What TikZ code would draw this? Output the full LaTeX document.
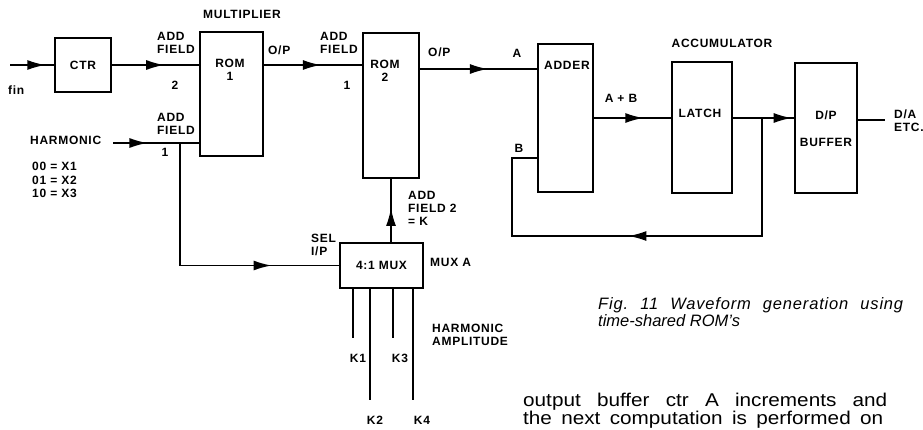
\documentclass[tikz,border=0pt]{standalone}
\usepackage{fontspec}
\setmainfont{Liberation Sans}
\newfontfamily\lblfont[LetterSpace=6]{Liberation Sans}
\newfontfamily\bodyfont[FakeStretch=1.12]{Liberation Sans}
\usetikzlibrary{arrows.meta,decorations.markings,positioning}
\tikzset{
    >={Latex[length=18pt,width=10pt]}, % filled mid-line heads
    flow/.style={
        decoration={
            markings,
            mark=at position #1 with {\arrow{>}}
        },
        postaction={decorate}
    },
    flow/.default=0.55,
    wire/.style={line width=1.6pt, draw=black},
    lbl/.style={font=\lblfont\bfseries\fontsize{12}{13}\selectfont, inner sep=0pt, align=left},
    block/.style 2 args={draw=black, line width=1.7pt, minimum width=#1, minimum height=#2,
        inner sep=0pt, font=\lblfont\bfseries\fontsize{12}{13}\selectfont},
    capt/.style={font=\itshape\fontsize{16.5}{18}\selectfont, inner sep=0pt},
    bodytext/.style={font=\bodyfont\fontsize{18.5}{19}\selectfont, inner sep=0pt}
}
\begin{document}
\begin{tikzpicture}[x=1pt,y=-1pt]
  \useasboundingbox (0,0) rectangle (923,429);

  % Blocks
  \node[block={56pt}{54pt}] (ctr) at (83,65) {CTR};
  \node[block={63pt}{124pt}] (rom1) at (231.5,94) {};
  \node[block={56pt}{145pt}] (rom2) at (391,105.5) {};
  \node[block={83pt}{45pt}] (mux) at (381.5,265.5) {4:1 MUX};
  \node[block={55pt}{148pt}] (adder) at (565.5,118) {};
  \node[block={60pt}{131pt}] (latch) at (702,127.5) {};
  \node[block={62pt}{130pt}] (buffer) at (826,128) {};

  % Free ends and junctions
  \coordinate (fin) at (10,65);
  \coordinate (rowA) at (0,69);
  \coordinate (hin) at (113,143);
  \coordinate (hj) at (180,143);
  \coordinate (fj) at (762,118);
  \coordinate (fbR) at (762,236);
  \coordinate (fbL) at (512,236);
  \coordinate (inB) at (512,158);
  \coordinate (dout) at (885,120);

  % Connectors
  \draw[wire, flow=0.8] (fin) -- (ctr.west);
  \draw[wire, flow=0.6] (ctr.east) -- (ctr.east -| rom1.west);
  \draw[wire, flow=0.58] (rom1.east |- ctr.east) -- (rom2.west |- ctr.east);
  \draw[wire, flow=0.58] (rom2.east |- rowA) -- (adder.west |- rowA);
  \draw[wire, flow=0.4] (hin) -- (hin -| rom1.west);
  \draw[wire, flow=0.76] (hj) |- (mux.west);
  \draw[wire, flow=0.54] (mux.north -| rom2.south) -- (rom2.south);
  \draw[wire, flow=0.64] (adder.east) -- (adder.east -| latch.west);
  \draw[wire, flow=0.96] (latch.east |- adder.east) -- (buffer.west |- adder.east);
  \draw[wire, flow=0.534] (fj) -- (fbR) -- (fbL) -- (inB) -- (inB -| adder.west);
  \draw[wire] (buffer.east |- dout) -- (dout);

  % Amplitude inputs of the mux
  \foreach \x/\y in {353/338, 370/400, 393/338, 413/400}
    \draw[wire] (\x,0 |- mux.south) -- (\x,\y);
  \foreach \x/\y/\k in {358/358/K1, 375/420/K2, 400/358/K3, 422/420/K4}
    \node[lbl] at (\x,\y) {\k};

  % Labels
  \node[lbl, anchor=west] at (8,90) {fin};
  \node[lbl] at (242,14) {MULTIPLIER};
  \node[lbl, anchor=west] at (157,43) {ADD\\FIELD};
  \node[lbl] at (175,85) {2};
  \node[lbl, align=center] at (230,70) {ROM\\1};
  \node[lbl, anchor=west] at (268,50) {O/P};
  \node[lbl, anchor=west] at (30,140) {HARMONIC};
  \node[lbl, anchor=west] at (157,124) {ADD\\FIELD};
  \node[lbl] at (165,152) {1};
  \node[lbl, anchor=west] at (32,180) {00 = X1\\[0.5pt]01 = X2\\[0.5pt]10 = X3};
  \node[lbl, anchor=west] at (320,43) {ADD\\FIELD};
  \node[lbl] at (347,85) {1};
  \node[lbl, align=center] at (385,71) {ROM\\2};
  \node[lbl, anchor=west] at (428,52) {O/P};
  \node[lbl] at (517,53) {A};
  \node[lbl] at (567,65) {ADDER};
  \node[lbl] at (519,148) {B};
  \node[lbl] at (621,98) {A + B};
  \node[lbl] at (722,43) {ACCUMULATOR};
  \node[lbl] at (700,113) {LATCH};
  \node[lbl] at (826,115) {D/P};
  \node[lbl] at (826,142) {BUFFER};
  \node[lbl, anchor=west] at (894,121) {D/A\\ETC.};
  \node[lbl, anchor=west] at (408,208) {ADD\\FIELD 2\\= K};
  \node[lbl, anchor=west] at (311,245) {SEL\\I/P};
  \node[lbl, anchor=west] at (430,262) {MUX A};
  \node[lbl, anchor=west] at (432,335) {HARMONIC\\AMPLITUDE};

  % Caption and running text
  \node[capt, anchor=base west] at (598,309) {\addfontfeature{LetterSpace=5}\makebox[305pt][s]{Fig.\ 11 Waveform generation using}};
  \node[capt, anchor=base west] at (598,326) {time-shared ROM's};
  \node[bodytext, anchor=base west] at (523,406) {\makebox[364pt][s]{output buffer ctr A increments and}};
  \node[bodytext, anchor=base west] at (523,424) {\makebox[360pt][s]{the next computation is performed on}};
\end{tikzpicture}
\end{document}
